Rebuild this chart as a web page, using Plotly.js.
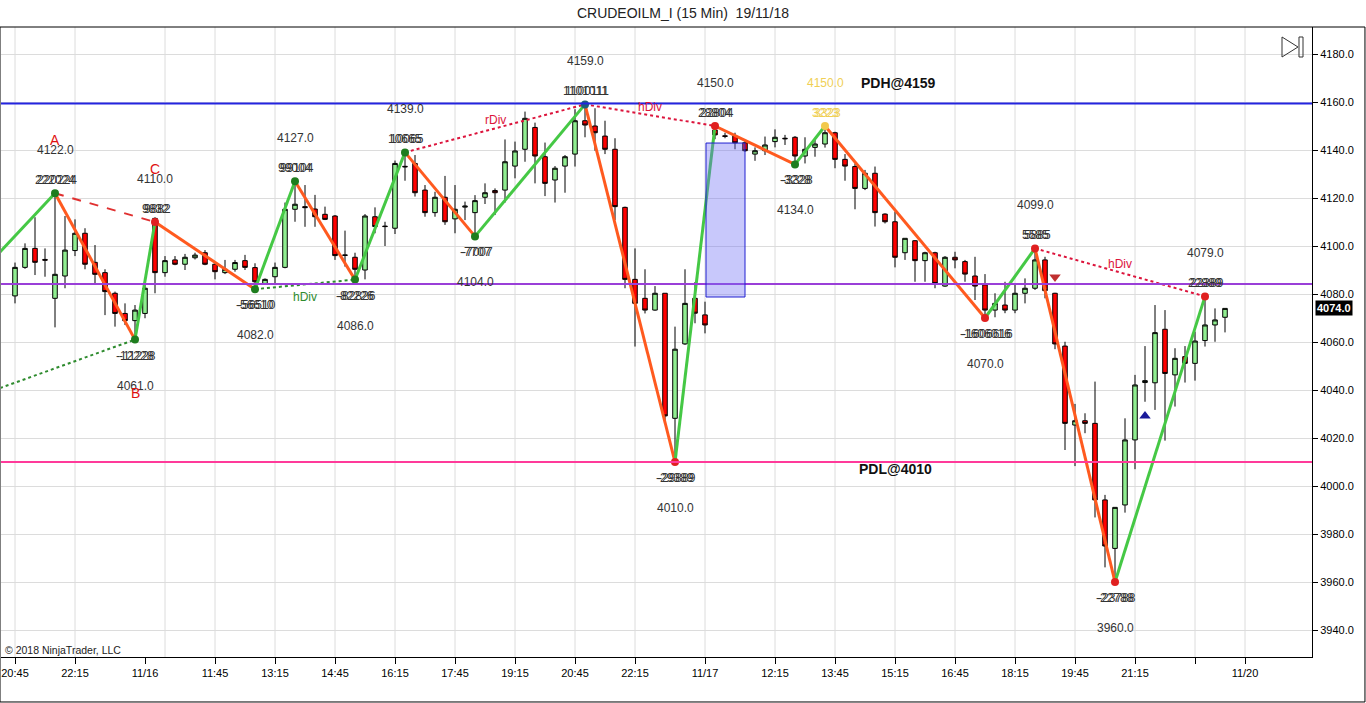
<!DOCTYPE html>
<html><head><meta charset="utf-8">
<script src="https://cdn.plot.ly/plotly-3.0.1.min.js"></script>
<style>html,body{margin:0;padding:0;background:#fff;overflow:hidden}#chart{width:1366px;height:703px}</style>
</head><body><div id="chart"></div>
<script>
// ---- candle data (15 min bars) ----
const opens  = [4079.2,4091.1,4099.0,4094.4,4078.2,4087.5,4098.1,4105.3,4093.2,4088.9,4080.3,4071.9,4068.9,4071.9,4111.5,4088.9,4094.2,4092.4,4095.1,4097.2,4092.4,4088.9,4090.3,4093.9,4091.0,4084.2,4087.2,4091.1,4115.3,4116.4,4115.4,4113.2,4112.5,4096.3,4095.3,4090.0,4112.2,4108.3,4107.4,4133.2,4134.4,4123.3,4113.9,4120.3,4111.3,4116.2,4113.9,4120.3,4123.1,4123.3,4133.3,4140.3,4149.4,4137.2,4127.5,4133.3,4138.3,4152.2,4150.0,4145.8,4140.3,4116.1,4086.1,4078.2,4073.3,4080.3,4028.2,4059.2,4078.2,4071.3,4148.3,4145.9,4145.8,4143.0,4138.3,4139.7,4143.5,4144.9,4145.3,4137.5,4141.1,4142.5,4147.2,4136.1,4133.1,4124.0,4130.3,4113.3,4110.1,4097.2,4102.2,4093.9,4097.2,4083.3,4095.3,4093.5,4087.5,4083.8,4073.3,4075.4,4073.3,4080.3,4082.4,4094.2,4080.3,4058.3,4025.4,4027.2,4026.1,3994.2,3974.0,3992.1,4019.2,4043.1,4043.0,4065.3,4046.3,4053.9,4051.1,4060.6,4067.1,4070.3];
const highs  = [4093.1,4101.1,4112.0,4099.0,4122.0,4112.5,4111.1,4107.4,4100.4,4090.3,4081.0,4076.1,4075.4,4084.4,4112.0,4095.8,4095.8,4096.7,4097.2,4098.3,4092.8,4094.2,4094.2,4096.3,4092.8,4086.5,4093.1,4118.1,4127.0,4125.4,4121.3,4116.4,4112.9,4106.4,4097.2,4113.3,4116.1,4110.1,4135.6,4139.0,4137.9,4125.4,4122.6,4129.2,4125.4,4118.5,4121.2,4126.1,4124.0,4144.4,4143.5,4156.0,4151.4,4143.1,4133.3,4137.9,4157.0,4159.0,4157.4,4152.2,4144.9,4116.4,4099.0,4090.3,4083.3,4080.3,4066.4,4090.3,4085.0,4076.8,4150.0,4147.2,4147.2,4144.2,4141.1,4145.6,4148.6,4146.3,4145.8,4145.3,4144.4,4150.0,4147.6,4138.3,4134.4,4131.7,4133.1,4113.6,4114.3,4103.2,4102.5,4097.6,4097.6,4095.8,4097.6,4094.2,4095.5,4088.3,4080.3,4085.1,4083.8,4086.5,4099.0,4095.5,4080.5,4060.1,4034.2,4030.3,4043.5,3996.3,3991.1,4028.2,4046.3,4058.3,4075.4,4073.3,4057.4,4058.3,4064.3,4079.0,4074.0,4074.0];
const lows   = [4076.1,4090.5,4087.9,4087.2,4066.1,4082.4,4095.8,4090.3,4084.4,4071.2,4066.4,4067.1,4061.0,4069.9,4080.3,4087.2,4092.0,4090.0,4094.4,4092.0,4086.1,4088.3,4089.3,4090.0,4082.0,4083.8,4084.4,4090.7,4110.1,4108.0,4108.0,4110.8,4094.2,4091.4,4086.0,4086.1,4105.3,4100.0,4105.0,4127.2,4120.6,4112.2,4112.2,4108.8,4105.3,4110.8,4104.0,4117.5,4112.9,4118.1,4128.2,4135.1,4126.1,4120.8,4118.1,4122.2,4133.1,4145.3,4139.7,4138.3,4110.8,4082.4,4058.1,4071.9,4073.0,4026.1,4010.0,4058.8,4067.8,4063.6,4144.5,4144.9,4140.3,4139.3,4135.5,4137.9,4141.1,4142.1,4134.0,4134.4,4137.2,4141.0,4132.4,4127.2,4115.3,4123.3,4108.1,4109.4,4091.1,4094.2,4085.1,4085.1,4082.4,4083.0,4090.7,4085.1,4077.5,4070.0,4070.3,4072.0,4072.0,4076.1,4081.7,4078.2,4057.0,4015.0,4008.3,4022.0,3986.9,3966.1,3960.0,3988.9,4007.0,4035.1,4031.7,4018.9,4033.1,4043.1,4043.9,4058.1,4060.1,4064.0];
const closes = [4091.1,4099.0,4093.2,4094.1,4088.2,4098.3,4105.3,4092.4,4088.2,4081.0,4071.9,4068.9,4073.3,4082.4,4088.9,4093.9,4092.4,4095.3,4096.2,4092.4,4089.3,4090.3,4093.1,4091.1,4085.1,4086.1,4091.1,4115.3,4117.4,4116.0,4112.2,4111.1,4096.0,4096.1,4090.3,4112.5,4108.1,4108.1,4134.4,4133.0,4122.2,4113.9,4120.3,4110.1,4115.3,4116.6,4118.9,4122.2,4122.2,4135.1,4139.6,4153.2,4137.5,4126.1,4132.4,4137.2,4152.2,4150.4,4147.2,4140.3,4116.4,4086.1,4076.1,4073.3,4080.3,4029.2,4057.0,4076.1,4072.0,4067.1,4146.3,4145.7,4143.0,4139.7,4139.7,4142.1,4145.3,4144.7,4137.5,4140.3,4142.5,4147.2,4136.1,4133.3,4124.0,4130.3,4113.9,4110.1,4095.3,4103.2,4093.9,4097.2,4084.4,4095.3,4094.2,4088.3,4083.3,4073.3,4076.1,4073.3,4080.3,4082.4,4094.2,4081.4,4059.2,4026.1,4027.2,4026.1,3994.2,3975.0,3991.1,4019.2,4042.1,4043.9,4063.9,4046.9,4053.2,4051.1,4060.4,4067.1,4069.2,4074.0];
const lastPrice = 4074.0;

// ---- axis labels ----
const xTickVals = [0,6,13,20,26,32,38,44,50,56,62,69,76,82,88,94,100,106,112,118,123];
const xTickText = ['20:45','22:15','11/16','11:45','13:15','14:45','16:15','17:45','19:15','20:45','22:15','11/17','12:15','13:45','15:15','16:45','18:15','19:45','21:15','','11/20'];
const gridIdx   = [0,6,15,20,26,32,38,44,50,56,62,69,76,82,88,94,100,106,112,118,123];

// ---- swing points ----
const swingIdx  = [4,12,14,24,28,34,39,46,57,66,70,78,81,97,102,110,119];
const swingVal  = [4122,4061,4110,4082,4127,4086,4139,4104,4159,4010,4150,4134,4150,4070,4099,3960,4079];
const swingType = ['H','L','H','L','H','L','H','L','H','L','H','L','H','L','H','L','H'];
const swingCntA = ['222024','-12228','9832','-56610','99004','-82226','10665','-7707','1101011','-29389','28804','-3228','3223','-1606016','5585','-22788','22889'];
const swingCntB = ['220224','-11228','9882','-56510','99104','-82826','10065','-7007','1100111','-29889','22804','-3328','3323','-1606616','5885','-23788','22389'];
const leadIn = {x:-1.5, y:4097.5};

// ---- divergence lines ----
const divX0 = [-1.5, 4, 24, 39, 57, 102];
const divY0 = [4040.8, 4122, 4082, 4139, 4159, 4099];
const divX1 = [12, 14, 34, 57, 70, 119];
const divY1 = [4061, 4110, 4086, 4159, 4150, 4079];
const divText = ['', '', 'hDiv', 'rDiv', 'hDiv', 'hDiv'];

// ---- levels / boxes / markers ----
const pdh = 4159.4, pdl = 4010, midLevel = 4084.2;
const pdhLabel = 'PDH@4159', pdlLabel = 'PDL@4010';
const boxX = [69.1, 73], boxY = [4078.75, 4142.9];
const abcLabels = ['A','B','C'];
const downArrow = {x:104, y:4087.1}, upArrow = {x:113, y:4029.2};

// ---------- styles ----------
const FONT = 'Liberation Sans, Arial, sans-serif';
const GREEN = '#45C845', ORANGE = '#FF5A1F';
const dotColors = ['#1E7D1E','#1E7D1E','#E02020','#1E7D1E','#1E7D1E','#1E7D1E','#1E7D1E','#1E7D1E','#1F5F7A','#E02020','#E02020','#1E7D1E','#F2C94C','#E02020','#E02020','#E02020','#E02020'];
const labelColors = swingIdx.map((_,k)=> k===12 ? '#F0CF55' : '#333333');
const divColors = ['#2E8B2E','#E03030','#2E8B2E','#DC143C','#DC143C','#DC143C'];
const divDash = ['dot','dash','dot','dot','dot','dot'];

const xs = opens.map((_,i)=>i);
const traces = [];
traces.push({
  type:'candlestick', x:xs, open:opens, high:highs, low:lows, close:closes,
  increasing:{line:{color:'#000',width:1}, fillcolor:'#90EE90'},
  decreasing:{line:{color:'#000',width:1}, fillcolor:'#FF0000'},
  whiskerwidth:0, hoverinfo:'skip'
});
for(let k=0;k<divX0.length;k++){
  traces.push({type:'scatter',mode:'lines',x:[divX0[k],divX1[k]],y:[divY0[k],divY1[k]],
    line:{color:divColors[k],width:2,dash:divDash[k]},hoverinfo:'skip'});
}
traces.push({type:'scatter',mode:'lines',x:[leadIn.x,swingIdx[0]],y:[leadIn.y,swingVal[0]],line:{color:GREEN,width:3},hoverinfo:'skip'});
for(let k=0;k<swingIdx.length-1;k++){
  const up = swingVal[k+1]>swingVal[k];
  traces.push({type:'scatter',mode:'lines',x:[swingIdx[k],swingIdx[k+1]],y:[swingVal[k],swingVal[k+1]],
    line:{color:up?GREEN:ORANGE,width:3},hoverinfo:'skip'});
}
traces.push({type:'scatter',mode:'markers',x:swingIdx,y:swingVal,
  marker:{color:dotColors,size:8,line:{width:0}},hoverinfo:'skip'});
traces.push({type:'scatter',mode:'markers',x:[downArrow.x],y:[downArrow.y],
  marker:{symbol:'triangle-down',color:'#C03030',size:10},hoverinfo:'skip'});
traces.push({type:'scatter',mode:'markers',x:[upArrow.x],y:[upArrow.y],
  marker:{symbol:'triangle-up',color:'#1A1A9A',size:10},hoverinfo:'skip'});

const ann = [];
swingIdx.forEach((xi,k)=>{
  const hi = swingType[k]==='H';
  ann.push({x:xi,y:swingVal[k],xref:'x',yref:'y',text:swingVal[k].toFixed(1),showarrow:false,
    yshift: hi?43:-46, font:{family:FONT,size:12,color:labelColors[k]}});
  ann.push({x:xi,y:swingVal[k],xref:'x',yref:'y',text:swingCntB[k],showarrow:false,
    yshift: hi?13:-16, xshift:2, font:{family:FONT,size:12,color:labelColors[k]}});
  ann.push({x:xi,y:swingVal[k],xref:'x',yref:'y',text:swingCntA[k],showarrow:false,
    yshift: hi?13:-16, font:{family:FONT,size:12,color:labelColors[k]}});
});
[0,1,2].forEach(k=>{
  const hi = swingType[k]==='H';
  ann.push({x:swingIdx[k],y:swingVal[k],text:abcLabels[k],showarrow:false,yshift:hi?53:-53,
    font:{family:FONT,size:14,color:'#E01010'}});
});
for(let k=0;k<divX0.length;k++){
  if(!divText[k]) continue;
  const green = divColors[k]==='#2E8B2E';
  ann.push({x:(divX0[k]+divX1[k])/2,y:(divY0[k]+divY1[k])/2,text:divText[k],showarrow:false,
    yshift: green?-13:8, font:{family:FONT,size:12,color:divColors[k]}});
}
ann.push({x:88.3,y:4167.9,text:'<b>'+pdhLabel+'</b>',showarrow:false,font:{family:FONT,size:14,color:'#111'}});
ann.push({x:88,y:4007.1,text:'<b>'+pdlLabel+'</b>',showarrow:false,font:{family:FONT,size:14,color:'#111'}});
ann.push({xref:'paper',yref:'paper',x:0.0015,y:0.011,xanchor:'left',yanchor:'middle',text:'© 2018 NinjaTrader, LLC',
  showarrow:false,font:{family:FONT,size:10.5,color:'#222'}});
ann.push({xref:'paper',yref:'y',x:1,y:lastPrice,xanchor:'left',xshift:3,text:'<b>'+lastPrice.toFixed(1)+'</b>',
  showarrow:false,bgcolor:'#000',borderpad:1,font:{family:FONT,size:11,color:'#fff'}});

const shapes = [];
gridIdx.forEach(g=>shapes.push({type:'line',xref:'x',yref:'paper',x0:g,x1:g,y0:0,y1:1,
  line:{color:'#DCDCDC',width:1},layer:'below'}));
shapes.push({type:'line',xref:'paper',yref:'y',x0:0,x1:1,y0:pdh,y1:pdh,line:{color:'#2424E0',width:2}});
shapes.push({type:'line',xref:'paper',yref:'y',x0:0,x1:1,y0:midLevel,y1:midLevel,line:{color:'#9A3FD8',width:2}});
shapes.push({type:'line',xref:'paper',yref:'y',x0:0,x1:1,y0:pdl,y1:pdl,line:{color:'#FF3A9A',width:2}});
shapes.push({type:'rect',xref:'x',yref:'y',x0:boxX[0],x1:boxX[1],y0:boxY[0],y1:boxY[1],
  fillcolor:'rgba(110,110,245,0.38)',line:{color:'#2020D0',width:1},layer:'above'});
shapes.push({type:'rect',xref:'paper',yref:'paper',x0:-0.00076,x1:1.0404,y0:-0.0714,y1:1.0,line:{color:'#000',width:1}});
shapes.push({type:'path',xref:'paper',yref:'paper',path:'M 0.97712 0.98413 L 0.97712 0.95238 L 0.98932 0.96825 Z',line:{color:'#333',width:1}});
shapes.push({type:'rect',xref:'paper',yref:'paper',x0:0.99008,x1:0.99314,y0:0.95238,y1:0.98413,line:{color:'#333',width:1}});

const layout = {
  width:1366,height:703,margin:{l:1,r:54,t:27,b:46,pad:0},
  paper_bgcolor:'#fff',plot_bgcolor:'#fff',showlegend:false,boxgap:0.35,
  font:{family:FONT,size:11,color:'#000'},
  title:{text:'CRUDEOILM_I (15 Min) \u00a019/11/18',x:0.5,xanchor:'center',y:0.9815,yanchor:'middle',
    font:{family:FONT,size:14,color:'#222'}},
  xaxis:{range:[-1.4,129.7],tickvals:xTickVals,ticktext:xTickText,showgrid:false,zeroline:false,
    showline:true,linecolor:'#000',linewidth:1,ticks:'outside',ticklen:6,tickcolor:'#000',
    rangeslider:{visible:false},tickfont:{family:FONT,size:11,color:'#000'},fixedrange:true},
  yaxis:{range:[3928.75,4191.25],side:'right',tick0:3940,dtick:20,tickformat:'.1f',showgrid:true,
    gridcolor:'#DCDCDC',zeroline:false,showline:true,linecolor:'#000',linewidth:1,ticks:'outside',
    ticklen:5,tickcolor:'#000',tickfont:{family:FONT,size:11,color:'#000'},fixedrange:true},
  annotations:ann, shapes:shapes
};
Plotly.newPlot('chart',traces,layout,{displayModeBar:false,staticPlot:true});
</script></body></html>
